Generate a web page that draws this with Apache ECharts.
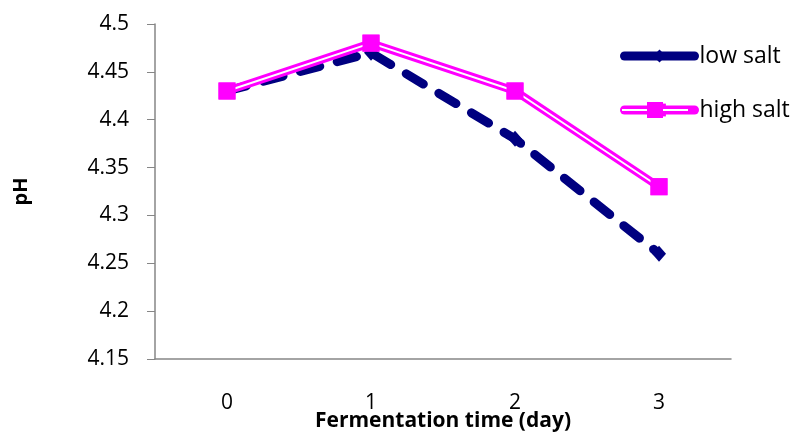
<!DOCTYPE html>
<html><head><meta charset="utf-8">
<script src="https://cdn.jsdelivr.net/npm/echarts@6/dist/echarts.min.js"></script>
<style>html,body{margin:0;padding:0;background:#fff}#c{width:794px;height:433px}</style>
</head><body><div id="c"></div>
<script>
const categories = ['0', '1', '2', '3'];
const lowSalt = [4.43, 4.47, 4.38, 4.26];
const highSalt = [4.43, 4.48, 4.43, 4.33];
const yTicks = { min: 4.15, max: 4.5, interval: 0.05 };

const font = '"Open Sans", sans-serif';
const chart = echarts.init(document.getElementById('c'), null, { renderer: 'canvas' });
chart.setOption({
  animation: false,
  backgroundColor: '#fff',
  grid: { left: 155, top: 24, right: 63, bottom: 74, containLabel: false, outerBoundsMode: 'none' },
  legend: {
    orient: 'vertical', left: 615, top: 39, itemGap: 30,
    itemWidth: 70, itemHeight: 16,
    lineStyle: { width: 9, cap: 'round' },
    textStyle: { fontFamily: font, fontSize: 23, lineHeight: 24, color: '#000', padding: [0, 0, 0, 0] },
    data: [
      { name: 'low salt', lineStyle: { type: 'solid', width: 9, cap: 'round' } },
      { name: 'high salt', lineStyle: { width: 9, cap: 'round' } }
    ]
  },
  graphic: [
    { type: 'line', zlevel: 1, z: 10, shape: { x1: 622, y1: 110, x2: 688, y2: 110 },
      style: { stroke: '#ffffff', lineWidth: 2 } },
    { type: 'rect', zlevel: 1, z: 11, shape: { x: 647, y: 102, width: 16, height: 16 },
      style: { fill: '#FF00FF' } }
  ],
  xAxis: {
    type: 'category', data: categories, boundaryGap: true,
    axisLine: { lineStyle: { color: '#868686', width: 1.5 } },
    axisTick: { show: false },
    axisLabel: { fontFamily: font, fontSize: 21, color: '#000', margin: 34 },
    name: 'Fermentation time (day)', nameLocation: 'middle', nameGap: 52, nameMoveOverlap: false,
    nameTextStyle: { fontFamily: font, fontSize: 21, fontWeight: 'bold', color: '#000' }
  },
  yAxis: {
    type: 'value', min: yTicks.min, max: yTicks.max, interval: yTicks.interval,
    splitLine: { show: false },
    axisLine: { show: true, lineStyle: { color: '#868686', width: 1.5 } },
    axisTick: { show: true, inside: false, length: 8, lineStyle: { color: '#868686' } },
    axisLabel: { fontFamily: font, fontSize: 21, color: '#000', margin: 26,
      formatter: v => String(+v.toFixed(2)) },
    name: 'pH', nameLocation: 'middle', nameGap: 124, nameRotate: 90, nameMoveOverlap: false,
    nameTextStyle: { fontFamily: font, fontSize: 20, fontWeight: 'bold', color: '#000' }
  },
  series: [
    {
      name: 'low salt', type: 'line', data: lowSalt,
      symbol: 'diamond', symbolSize: [14, 16],
      itemStyle: { color: '#000080' },
      lineStyle: { color: '#000080', width: 9, type: [20, 18], cap: 'round', join: 'round' },
      z: 2
    },
    {
      name: 'high salt', type: 'line', data: highSalt,
      symbol: 'rect', symbolSize: 17,
      itemStyle: { color: '#FF00FF' },
      lineStyle: { color: '#FF00FF', width: 8, cap: 'round', join: 'miter' },
      z: 3
    },
    {
      name: 'high salt inner', type: 'line', data: highSalt,
      symbol: 'none', silent: true,
      lineStyle: { color: '#ffffff', width: 2 },
      z: 4
    },
    {
      name: 'high salt markers', type: 'line', data: highSalt,
      symbol: 'rect', symbolSize: 17, silent: true,
      itemStyle: { color: '#FF00FF' },
      lineStyle: { width: 0, opacity: 0 },
      z: 5
    }
  ]
});
</script></body></html>
